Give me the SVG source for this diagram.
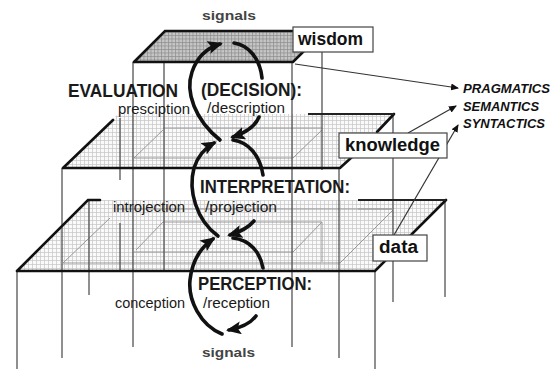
<svg xmlns="http://www.w3.org/2000/svg" width="559" height="369" viewBox="0 0 559 369">
<defs>
<pattern id="gridL" width="4" height="4" patternUnits="userSpaceOnUse"><rect width="4" height="4" fill="#fafafa"/><path d="M0 0.5H4M0.5 0V4" stroke="#c6c6c6" stroke-width="0.7"/></pattern>
<pattern id="gridD" width="3.5" height="3.5" patternUnits="userSpaceOnUse"><rect width="3.5" height="3.5" fill="#c6c6c6"/><path d="M0 0.5H3.5M0.5 0V3.5" stroke="#8c8c8c" stroke-width="0.7"/></pattern>
<marker id="big" markerUnits="userSpaceOnUse" markerWidth="17" markerHeight="15" refX="12" refY="6.5" orient="auto"><path d="M0,0 L15,6.5 L0,13 L3,6.5 z" fill="#111"/></marker>
<marker id="small" markerUnits="userSpaceOnUse" markerWidth="9" markerHeight="8" refX="7" refY="3.5" orient="auto"><path d="M0,0 L8,3.5 L0,7 z" fill="#111"/></marker>
<style>
.edge{stroke:#111;stroke-width:2.6;fill:none;stroke-linecap:round}
.back{stroke:#222;stroke-width:2;fill:none}
.vert{stroke:#555;stroke-width:1.3;fill:none}
.foot{stroke:#999;stroke-width:1;fill:none}
.loop{stroke:#111;stroke-width:3.6;fill:none;stroke-linecap:round}
.conn{stroke:#333;stroke-width:1.2;fill:none}
.cap{font-family:"Liberation Sans",Arial,sans-serif;font-weight:bold;font-size:19px;fill:#1a1a1a}
.lab{font-family:"Liberation Sans",Arial,sans-serif;font-size:14px;fill:#1a1a1a}
.sig{font-family:"Liberation Sans",Arial,sans-serif;font-weight:bold;font-size:12px;fill:#444}
.box{fill:#fff;stroke:#444;stroke-width:1.2}
.boxt{font-family:"Liberation Sans",Arial,sans-serif;font-weight:bold;font-size:18px;fill:#111}
.sem{font-family:"Liberation Sans",Arial,sans-serif;font-weight:bold;font-style:italic;font-size:13px;fill:#111}
</style>
</defs>
<rect width="559" height="369" fill="#fff"/>

<g id="plane-bottom">
<polygon points="17,271 375,271 446,200 88,200" fill="url(#gridL)"/>
<path class="foot" d="M63,263 H340 M117,209 H393 M63,263 L110,218 M340,263 L393,210 M134,252 H293 M163,222 H322 M163,222 L136,250 M322,222 L293,252 M322,222 V262"/>
</g>
<g id="plane-middle">
<polygon points="63,168 340,168 394,114 118,114" fill="url(#gridL)"/>
<path class="foot" d="M134,158 H293 M163,128 H322 M163,130 L134,158 M322,130 L293,158"/>
</g>
<g id="plane-top">
<polygon points="134,62 293,62 324,31 165,31" fill="url(#gridD)"/>
</g>

<g id="verticals">
<path class="vert" d="M17,271 V369 M62,168 V358 M89,200 V295 M120,118 V180 M120,223 V270 M133,62 V347 M164,62 V270 M292,62 V347 M322,52 V170 M339,168 V358 M375,271 V369 M393,114 V302 M445,200 V297"/>
</g>

<g id="edges">
<path class="edge" d="M17,271 H375 L446,200 M17,271 L88,200 H100"/>
<path class="back" d="M358,200 H446"/>
<path class="foot" d="M358,209 H393"/>
<path class="edge" d="M63,168 H340 L352,157 M63,168 L113,120"/>
<path class="edge" d="M377,132 L394,114"/>
<path class="back" d="M308,114 H394"/>
<path class="edge" d="M134,62 H293 L304,51 M134,62 L165,31 H300"/>
</g>

<g id="connectors">
<path class="loop" d="M220,140 C195,120 185,92 192,72 C197,57 207,48 220,44" marker-end="url(#big)"/>
<path class="loop" d="M234,43 C248,45 260,58 262,78"/>
<path class="loop" d="M259,117 C255,127 245,133 233,137" marker-end="url(#big)"/>
<path class="loop" d="M218,236 C196,220 188,190 194,168 C198,155 205,148 214,143" marker-end="url(#big)"/>
<path class="loop" d="M233,140 C248,142 260,155 263,175"/>
<path class="loop" d="M254,221 C248,228 240,232 230,235" marker-end="url(#big)"/>
<path class="loop" d="M222,334 C200,325 188,300 190,280 C192,262 200,248 213,239" marker-end="url(#big)"/>
<path class="loop" d="M233,238 C250,240 260,252 263,268"/>
<path class="loop" d="M256,316 C250,324 240,328 229,330" marker-end="url(#big)"/>
<path class="conn" d="M295,64 L458,88" marker-end="url(#small)"/>
<path class="conn" d="M408,133 L456,106" marker-end="url(#small)"/>
<path class="conn" d="M394,235 L458,125" marker-end="url(#small)"/>
</g>

<g id="labels">
<text class="sig" x="202" y="20" textLength="54" lengthAdjust="spacingAndGlyphs">signals</text>
<text class="cap" x="68" y="97" textLength="110" lengthAdjust="spacingAndGlyphs">EVALUATION</text>
<text class="cap" x="201" y="96" textLength="101" lengthAdjust="spacingAndGlyphs">(DECISION):</text>
<text class="lab" x="118" y="114" textLength="72" lengthAdjust="spacingAndGlyphs">presciption</text>
<text class="lab" x="207" y="113" textLength="78" lengthAdjust="spacingAndGlyphs">/description</text>
<text class="cap" x="200" y="193" textLength="150" lengthAdjust="spacingAndGlyphs">INTERPRETATION:</text>
<text class="lab" x="113" y="212" textLength="72" lengthAdjust="spacingAndGlyphs">introjection</text>
<text class="lab" x="205" y="212" textLength="72" lengthAdjust="spacingAndGlyphs">/projection</text>
<text class="cap" x="198" y="290" textLength="114" lengthAdjust="spacingAndGlyphs">PERCEPTION:</text>
<text class="lab" x="115" y="308" textLength="70" lengthAdjust="spacingAndGlyphs">conception</text>
<text class="lab" x="203" y="308" textLength="67" lengthAdjust="spacingAndGlyphs">/reception</text>
<text class="sig" x="202" y="357" textLength="53" lengthAdjust="spacingAndGlyphs">signals</text>
</g>

<g id="wisdom">
<rect class="box" x="293" y="27" width="80" height="25"/>
<text class="boxt" x="298" y="45" textLength="65" lengthAdjust="spacingAndGlyphs">wisdom</text>
</g>
<g id="knowledge">
<rect class="box" x="339" y="133" width="108" height="25"/>
<text class="boxt" x="345" y="151" textLength="95" lengthAdjust="spacingAndGlyphs">knowledge</text>
</g>
<g id="data">
<rect class="box" x="373" y="235" width="54" height="26"/>
<text class="boxt" x="379" y="253" textLength="39" lengthAdjust="spacingAndGlyphs">data</text>
</g>

<g id="semiotics">
<text class="sem" x="463" y="93" textLength="87" lengthAdjust="spacingAndGlyphs">PRAGMATICS</text>
<text class="sem" x="463" y="111" textLength="76" lengthAdjust="spacingAndGlyphs">SEMANTICS</text>
<text class="sem" x="463" y="128" textLength="82" lengthAdjust="spacingAndGlyphs">SYNTACTICS</text>
</g>
</svg>
